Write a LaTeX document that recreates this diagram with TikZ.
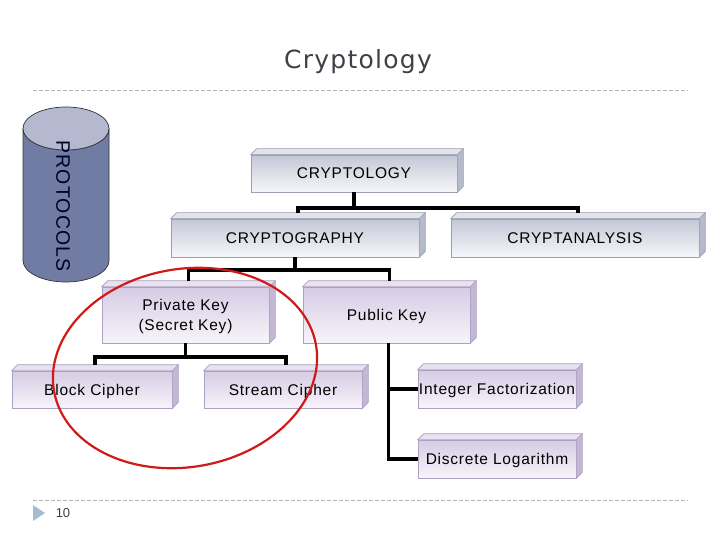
\documentclass[tikz,border=0pt]{standalone}
\usepackage{fontspec}
\setmainfont{Liberation Sans}
\newfontfamily\boxfont[LetterSpace=5]{Liberation Sans}
\newfontfamily\titlefont[LetterSpace=5]{DejaVu Sans}
\newfontfamily\cylfont[LetterSpace=6]{Liberation Sans}
\definecolor{grtop}{HTML}{C4C8D6}
\definecolor{grbot}{HTML}{F6F7FA}
\definecolor{grline}{HTML}{9AA0B2}
\definecolor{grtopface}{HTML}{E0E3EB}
\definecolor{grside}{HTML}{B6BBCB}
\definecolor{pptop}{HTML}{D6CCE4}
\definecolor{ppbot}{HTML}{F7F4FA}
\definecolor{ppline}{HTML}{ADA1C2}
\definecolor{pptopface}{HTML}{E8E2F0}
\definecolor{ppside}{HTML}{C3B7D5}
\definecolor{cylbody}{HTML}{707CA4}
\definecolor{cyltop}{HTML}{B5B9CF}
\definecolor{titlegray}{HTML}{404048}
\definecolor{dashgray}{HTML}{B4B4B4}
\definecolor{tricol}{HTML}{A9BCCF}
\definecolor{ringred}{HTML}{D01A1A}
\newcommand\boxfaces[4]{%
  \filldraw[fill=#2, draw=#4, line width=0.6pt]
    (#1.north west) -- ++(6,-6) -- ([shift={(6,-6)}]#1.north east) -- (#1.north east) -- cycle;
  \filldraw[fill=#3, draw=#4, line width=0.6pt]
    (#1.north east) -- ++(6,-6) -- ([shift={(6,-6)}]#1.south east) -- (#1.south east) -- cycle;
}
\begin{document}
\begin{tikzpicture}[x=1pt,y=-1pt,
  basebox/.style={inner sep=0pt, line width=0.6pt, font=\boxfont\fontsize{15.5}{20}\selectfont, align=center, text=black, text depth=0pt},
  graybox/.style={basebox, draw=grline, top color=grtop, bottom color=grbot},
  purplebox/.style={basebox, draw=ppline, top color=pptop, bottom color=ppbot},
  conn/.style={line width=3.2pt, black},
  dashline/.style={draw=dashgray, line width=0.8pt, dash pattern=on 4pt off 2pt}]
\fill[white] (0,0) rectangle (720,540);
\useasboundingbox (0,0) rectangle (720,540);

% title and rules
\node[font=\titlefont\fontsize{25}{30}\selectfont, text=titlegray] (title) at (358,62) {Cryptology};
\draw[dashline] (33,90) -- (688,90);
\draw[dashline] (33,500) -- (688,500);
\fill[tricol] (33,505) -- (45,513) -- (33,521) -- cycle;
\node[font=\fontsize{13}{15}\selectfont, text=titlegray] (pagenum) at (63,513) {10};

% cylinder
\filldraw[fill=cylbody, draw=black!80, line width=0.7pt]
  (23,128.5) -- (23,260.5) arc[start angle=180, end angle=360, x radius=43, y radius=-21.5]
  -- (109,128.5) arc[start angle=0, end angle=180, x radius=43, y radius=21.5] -- cycle;
\filldraw[fill=cyltop, draw=black!80, line width=0.7pt] (66,128.5) ellipse [x radius=43, y radius=21.5];
\node[rotate=-90, font=\cylfont\fontsize{19.5}{22}\selectfont, text=black!85!blue] (protocols) at (63,206) {PROTOCOLS};

% boxes
\node[graybox, minimum width=206pt, minimum height=37pt] (cryptology) at (354,173.5) {CRYPTOLOGY};
\boxfaces{cryptology}{grtopface}{grside}{grline}
\node[graybox, minimum width=248pt, minimum height=38pt] (cryptography) at (295,238) {CRYPTOGRAPHY};
\boxfaces{cryptography}{grtopface}{grside}{grline}
\node[graybox, minimum width=248pt, minimum height=38pt] (cryptanalysis) at (575,238) {CRYPTANALYSIS};
\boxfaces{cryptanalysis}{grtopface}{grside}{grline}
\node[purplebox, minimum width=167pt, minimum height=56pt] (private) at (185.5,315) {Private Key\\(Secret Key)};
\boxfaces{private}{pptopface}{ppside}{ppline}
\node[purplebox, minimum width=167pt, minimum height=56pt] (public) at (386.5,315) {Public Key};
\boxfaces{public}{pptopface}{ppside}{ppline}
\node[purplebox, minimum width=160pt, minimum height=37pt] (block) at (92,389.5) {Block Cipher};
\boxfaces{block}{pptopface}{ppside}{ppline}
\node[purplebox, minimum width=158pt, minimum height=37pt] (stream) at (283,389.5) {Stream Cipher};
\boxfaces{stream}{pptopface}{ppside}{ppline}
\node[purplebox, minimum width=158pt, minimum height=38pt] (intfact) at (497,389) {Integer Factorization};
\boxfaces{intfact}{pptopface}{ppside}{ppline}
\node[purplebox, minimum width=158pt, minimum height=38pt] (discrete) at (497,459) {Discrete Logarithm};
\boxfaces{discrete}{pptopface}{ppside}{ppline}

% connectors
\coordinate (j1) at (354,208);
\draw[conn] (cryptology.south) -- (j1);
\draw[conn] ([xshift=3pt,yshift=6pt]cryptography.north) |- (j1) -| ([xshift=3pt,yshift=6pt]cryptanalysis.north);
\coordinate (j2) at (295,270);
\draw[conn] (cryptography.south) -- (j2);
\draw[conn] ([xshift=3pt,yshift=6pt]private.north) |- (j2) -| ([xshift=3pt,yshift=6pt]public.north);
\coordinate (j3) at (185.5,357);
\draw[conn] (private.south) -- (j3);
\draw[conn] ([xshift=3pt,yshift=6pt]block.north) |- (j3) -| ([xshift=3pt,yshift=6pt]stream.north);
\coordinate (j4) at ([xshift=2pt]public.south);
\draw[conn] (j4) |- (discrete.west);
\draw[conn] (j4 |- intfact.west) -- (intfact.west);

% red ring
\draw[ringred, line width=2.2pt, rotate around={10:(185,368)}] (185,368) ellipse [x radius=133, y radius=99];
\end{tikzpicture}
\end{document}
